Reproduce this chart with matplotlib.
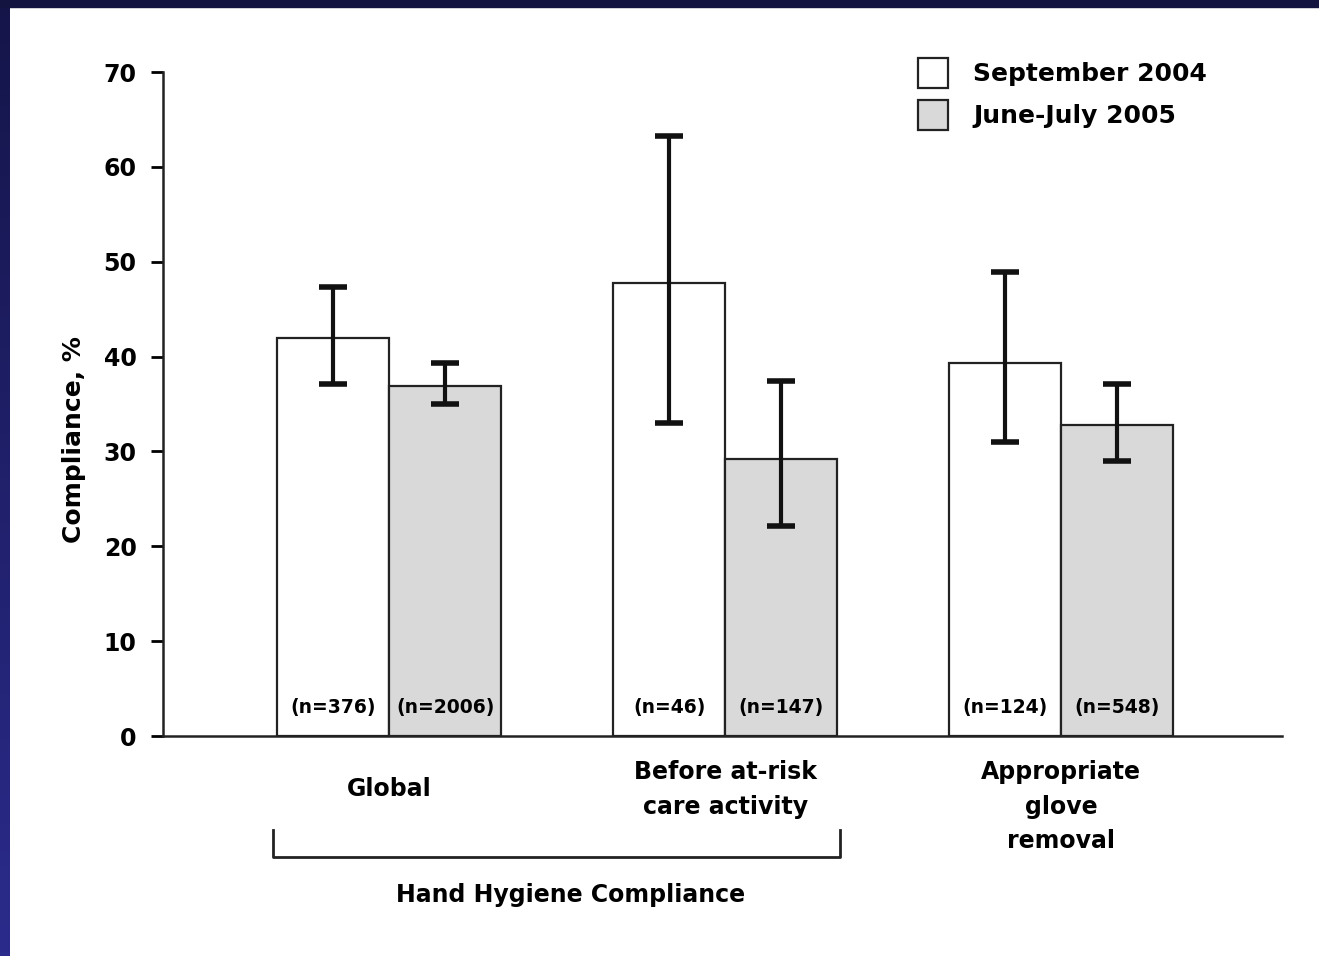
import numpy as np
import matplotlib.pyplot as plt
from matplotlib.patches import Rectangle
from matplotlib.lines import Line2D
from matplotlib.colors import LinearSegmentedColormap

# compliance (%) with 95% CI bounds, per period
categories = ['Global', 'Before at-risk\ncare activity', 'Appropriate\nglove\nremoval']
sep_2004 = [42.0, 47.8, 39.3]
sep_2004_low = [37.1, 33.0, 31.0]
sep_2004_high = [47.3, 63.3, 48.9]
jun_2005 = [36.9, 29.2, 32.8]
jun_2005_low = [35.0, 22.1, 29.0]
jun_2005_high = [39.3, 37.4, 37.1]
n_2004 = ['(n=376)', '(n=46)', '(n=124)']
n_2005 = ['(n=2006)', '(n=147)', '(n=548)']

plt.rcParams['font.family'] = ['DejaVu Sans']
plt.rcParams['font.weight'] = 'bold'

fig = plt.figure(figsize=(13.19, 9.56), dpi=100)

# dark slide frame along top and left edge
frame = fig.add_axes([0, 0, 10 / 1319, 1])
grad = np.linspace(0, 1, 256).reshape(-1, 1)
frame.imshow(grad, aspect='auto', extent=[0, 1, 0, 1], origin='lower',
             cmap=LinearSegmentedColormap.from_list('frame', ['#2b2b8c', '#15154a']))
frame.axis('off')
fig.patches.append(Rectangle((0, 1 - 7 / 956), 1, 7 / 956, transform=fig.transFigure,
                             color='#141440', zorder=5))

ax = fig.add_axes([163 / 1319, 220 / 956, (1282 - 163) / 1319, 664 / 956])

x = np.arange(len(categories)) * 3.0
w = 1.0
ax.bar(x - w / 2, sep_2004, w, color='white', edgecolor='#222222', linewidth=1.6,
       label='September 2004', zorder=2)
ax.bar(x + w / 2, jun_2005, w, color='#d9d9d9', edgecolor='#222222', linewidth=1.6,
       label='June-July 2005', zorder=2)

err_a = [np.array(sep_2004) - np.array(sep_2004_low), np.array(sep_2004_high) - np.array(sep_2004)]
err_b = [np.array(jun_2005) - np.array(jun_2005_low), np.array(jun_2005_high) - np.array(jun_2005)]
ax.errorbar(x - w / 2, sep_2004, yerr=err_a, fmt='none', ecolor='#111111',
            elinewidth=3, capsize=10, capthick=4, zorder=3)
ax.errorbar(x + w / 2, jun_2005, yerr=err_b, fmt='none', ecolor='#111111',
            elinewidth=3, capsize=10, capthick=4, zorder=3)

for xi, a, b in zip(x, n_2004, n_2005):
    ax.text(xi - w / 2, 3.0, a, ha='center', va='center', fontsize=13.5, zorder=4)
    ax.text(xi + w / 2, 3.0, b, ha='center', va='center', fontsize=13.5, zorder=4)

ax.set_xlim(-2.02, 7.97)
ax.set_ylim(0, 70)
ax.set_yticks(range(0, 71, 10))
ax.set_xticks([])
ax.tick_params(axis='y', length=9, width=2, labelsize=17, pad=10)
for s in ['top', 'right']:
    ax.spines[s].set_visible(False)
for s in ['left', 'bottom']:
    ax.spines[s].set_linewidth(1.8)
    ax.spines[s].set_color('#222222')
ax.set_ylabel('Compliance, %', fontsize=18, fontweight='bold')
ax.yaxis.set_label_coords(-0.069, 0.446)

# category labels under the axis
label_top = [-4.3, -2.55, -2.55]
for xi, cat, yt in zip(x, categories, label_top):
    ax.text(xi, yt, cat, ha='center', va='top', fontsize=17, linespacing=1.55)

# bracket grouping the hand hygiene categories
y0, y1 = -9.9, -12.8
ax.add_line(Line2D([-1.036, -1.036, 4.024, 4.024], [y0, y1, y1, y0], color='#222222',
                   linewidth=2, clip_on=False))
ax.text(1.62, -16.8, 'Hand Hygiene Compliance', ha='center', va='center', fontsize=17)

leg = ax.legend(loc='upper left', bbox_to_anchor=(0.655, 1.055), frameon=False,
                fontsize=18, handlelength=1.2, handleheight=1.45, handletextpad=1.0,
                labelspacing=0.5)

fig.savefig('out.png', dpi=100)
